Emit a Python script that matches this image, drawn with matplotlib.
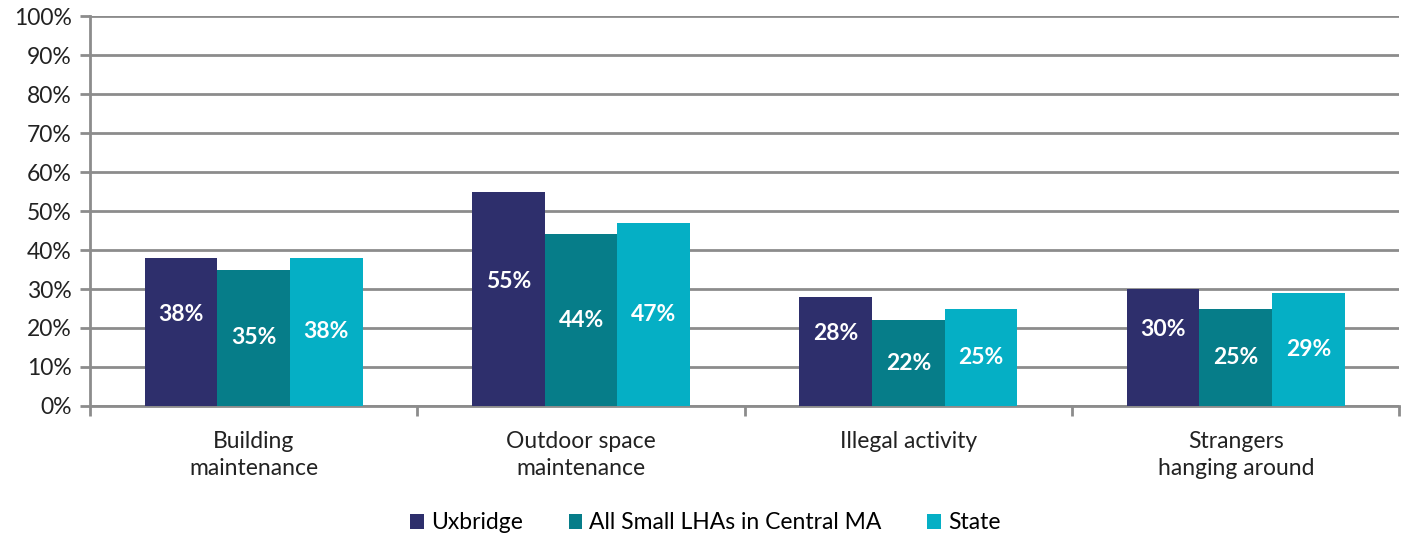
import matplotlib.pyplot as plt
import numpy as np

plt.rcParams['font.family'] = ['Lato', 'DejaVu Sans']

categories = ['Building\nmaintenance', 'Outdoor space\nmaintenance', 'Illegal activity', 'Strangers\nhanging around']
series = ['Uxbridge', 'All Small LHAs in Central MA', 'State']
uxbridge = [38, 55, 28, 30]
small_lhas = [35, 44, 22, 25]
state = [38, 47, 25, 29]
colors = ['#2E2F6C', '#067D89', '#05AFC5']

fig = plt.figure(figsize=(14.11, 5.37), dpi=100)
ax = fig.add_axes([0.0638, 0.244, 0.928, 0.726])

x = np.arange(len(categories))
w = 0.222
values = [uxbridge, small_lhas, state]
for i, (name, vals, col) in enumerate(zip(series, values, colors)):
    pos = x + (i - 1) * w
    ax.bar(pos, vals, width=w, color=col, label=name, zorder=3)
    for p, v in zip(pos, vals):
        # Uxbridge labels sit a bit above the middle of the bar
        y = v / 2 + (4.5 if i == 0 else 0)
        ax.text(p, y, f'{v}%', ha='center', va='center', color='white',
                fontsize=16.5, fontweight='bold', zorder=4)

ax.set_ylim(0, 100)
ax.set_xlim(-0.5, len(categories) - 0.5)
ax.set_yticks(range(0, 101, 10))
ax.set_yticklabels([f'{t}%' for t in range(0, 101, 10)], fontsize=16.5, color='#222222')
ax.yaxis.grid(True, color='#8c8c8c', linewidth=2, zorder=0)
ax.set_axisbelow(True)

ax.set_xticks(x)
ax.set_xticklabels(categories, fontsize=16.5, color='#222222', linespacing=1.35)
ax.set_xticks(np.arange(-0.5, len(categories), 1), minor=True)
ax.tick_params(axis='x', which='major', length=0, pad=18)
ax.tick_params(axis='x', which='minor', length=7, width=2, color='#8c8c8c')
ax.tick_params(axis='y', length=7, width=2, color='#8c8c8c', pad=6)

for s in ['top', 'right']:
    ax.spines[s].set_visible(False)
for s in ['left', 'bottom']:
    ax.spines[s].set_color('#8c8c8c')
    ax.spines[s].set_linewidth(2)

ax.legend(loc='center', bbox_to_anchor=(0.47, -0.3), ncol=3, frameon=False,
          fontsize=16.5, handlelength=0.6, handleheight=0.6, columnspacing=2.0,
          handletextpad=0.3)

fig.savefig('out.png', dpi=100)
